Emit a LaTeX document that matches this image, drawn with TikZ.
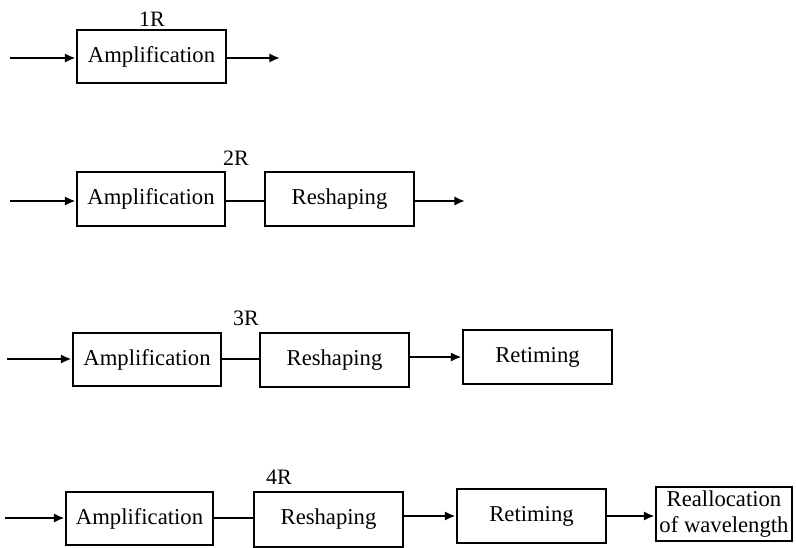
\documentclass[tikz,border=0pt]{standalone}
\usepackage{fontspec}
\setmainfont{Liberation Serif}
\usetikzlibrary{arrows.meta}
\begin{document}
\begin{tikzpicture}[x=0.75pt,y=-0.75pt,
  blk/.style={draw, line width=2.2pt, inner sep=0pt, align=center,
              font=\fontsize{17}{19}\selectfont},
  wire/.style={line width=1.8pt},
  arr/.style={wire, -{Latex[length=8pt,width=7pt]}},
  tag/.style={font=\fontsize{16.5}{19}\selectfont, inner sep=0pt}]
\useasboundingbox (0,0) rectangle (796,548);

% 1R: amplification only
\node[blk, minimum width=149*0.75pt, minimum height=53*0.75pt] (a1) at (151.5,56.5) {Amplification};
\node[tag] (t1) at (152,19) {1R};
\coordinate (in1) at (10,58);
\coordinate (out1) at (280,58);
\draw[arr] (in1) -- (in1 -| a1.west);
\draw[arr] (a1.east |- out1) -- (out1);

% 2R: amplification + reshaping
\node[blk, minimum width=148*0.75pt, minimum height=54*0.75pt] (a2) at (151,199) {Amplification};
\node[blk, minimum width=149*0.75pt, minimum height=54*0.75pt] (r2) at (339.5,199) {Reshaping};
\node[tag] (t2) at (236,158) {2R};
\coordinate (in2) at (10,201);
\coordinate (out2) at (465,201);
\draw[arr] (in2) -- (in2 -| a2.west);
\draw[wire] (a2.east |- in2) -- (in2 -| r2.west);
\draw[arr] (r2.east |- out2) -- (out2);

% 3R: amplification + reshaping + retiming
\node[blk, minimum width=148*0.75pt, minimum height=53*0.75pt] (a3) at (147,359.5) {Amplification};
\node[blk, minimum width=149*0.75pt, minimum height=54*0.75pt] (r3) at (334.5,360) {Reshaping};
\node[blk, minimum width=149*0.75pt, minimum height=54*0.75pt] (m3) at (537.5,357) {Retiming};
\node[tag] (t3) at (246,318) {3R};
\coordinate (in3) at (7,359);
\draw[arr] (in3) -- (in3 -| a3.west);
\draw[wire] (a3.east |- in3) -- (in3 -| r3.west);
\draw[arr] (r3.east |- m3.west) -- (m3.west);

% 4R: amplification + reshaping + retiming + reallocation of wavelength
\node[blk, minimum width=147*0.75pt, minimum height=53*0.75pt] (a4) at (139.5,518.5) {Amplification};
\node[blk, minimum width=149*0.75pt, minimum height=55*0.75pt] (r4) at (328.5,519.5) {\raisebox{-3pt}{Reshaping}};
\node[blk, minimum width=149*0.75pt, minimum height=54*0.75pt] (m4) at (531.5,516) {Retiming};
\node[blk, minimum width=136*0.75pt, minimum height=54*0.75pt] (w4) at (724,514) {Reallocation\\of wavelength};
\node[tag] (t4) at (279,477) {4R};
\coordinate (in4) at (5,518);
\draw[arr] (in4) -- (in4 -| a4.west);
\draw[wire] (a4.east |- in4) -- (in4 -| r4.west);
\draw[arr] (r4.east |- m4.west) -- (m4.west);
\draw[arr] (m4.east) -- (m4.east -| w4.west);
\end{tikzpicture}
\end{document}
